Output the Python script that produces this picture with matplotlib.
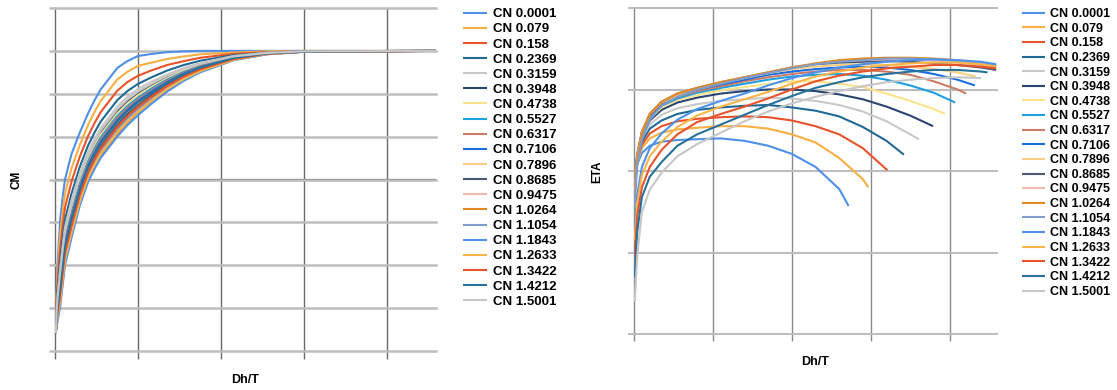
import matplotlib
matplotlib.use("Agg")
import matplotlib.pyplot as plt

plt.rcParams['font.family'] = ['Liberation Sans', 'DejaVu Sans']

# legend labels and series colours (same order in both charts)
cn_labels = ['CN 0.0001', 'CN 0.079', 'CN 0.158', 'CN 0.2369', 'CN 0.3159',
             'CN 0.3948', 'CN 0.4738', 'CN 0.5527', 'CN 0.6317', 'CN 0.7106',
             'CN 0.7896', 'CN 0.8685', 'CN 0.9475', 'CN 1.0264', 'CN 1.1054',
             'CN 1.1843', 'CN 1.2633', 'CN 1.3422', 'CN 1.4212', 'CN 1.5001']
cn_colors = ['#4f8fe8', '#f9ae42', '#e8532a', '#1f6a94', '#c8c8c8',
             '#2a4470', '#fde28c', '#1ea0e0', '#cc7c64', '#1a6ee0',
             '#f8cf7e', '#4b5a72', '#f3bbb0', '#e28a22', '#7f9ccc',
             '#4d93ec', '#fbb548', '#e8532a', '#26729c', '#c6c6c6']

# ---- CM vs Dh/T (left chart) ----
cm_x = [0.01, 0.02, 0.03, 0.06, 0.09, 0.12, 0.2, 0.3, 0.4, 0.48, 0.55,
        0.75, 0.87, 1.0, 1.17, 1.35, 1.55, 1.75, 2.15, 2.55, 3.0, 4.59]
cm_0001 = [0.42, 1.45, 2.00, 3.00, 3.55, 4.00, 4.60, 5.10, 5.55, 5.86, 6.10, 6.60, 6.76, 6.88, 6.93, 6.97, 6.99, 7.00, 7.00, 7.00, 7.00, 7.00]
cm_0079 = [0.42, 1.30, 1.78, 2.66, 3.20, 3.66, 4.27, 4.81, 5.28, 5.59, 5.83, 6.33, 6.51, 6.65, 6.73, 6.81, 6.87, 6.92, 6.96, 6.99, 7.00, 7.00]
cm_0158 = [0.42, 1.16, 1.57, 2.34, 2.87, 3.34, 3.96, 4.54, 5.02, 5.33, 5.57, 6.07, 6.27, 6.42, 6.55, 6.67, 6.76, 6.84, 6.93, 6.97, 6.99, 7.00]
cm_2369 = [0.42, 1.04, 1.39, 2.06, 2.59, 3.06, 3.68, 4.30, 4.80, 5.11, 5.35, 5.85, 6.06, 6.23, 6.39, 6.54, 6.67, 6.77, 6.90, 6.96, 6.99, 7.00]
cm_3159 = [0.42, 0.96, 1.27, 1.88, 2.40, 2.88, 3.51, 4.15, 4.65, 4.96, 5.20, 5.70, 5.92, 6.11, 6.29, 6.45, 6.60, 6.72, 6.88, 6.96, 6.99, 7.00]
cm_3948 = [0.42, 0.90, 1.18, 1.74, 2.26, 2.74, 3.37, 4.03, 4.54, 4.85, 5.09, 5.59, 5.82, 6.01, 6.21, 6.39, 6.56, 6.69, 6.86, 6.95, 6.99, 7.00]
cm_4738 = [0.42, 0.87, 1.14, 1.68, 2.20, 2.68, 3.31, 3.98, 4.49, 4.80, 5.04, 5.54, 5.77, 5.97, 6.17, 6.36, 6.54, 6.67, 6.86, 6.95, 6.99, 7.00]
cm_5527 = [0.42, 0.83, 1.09, 1.60, 2.12, 2.60, 3.23, 3.91, 4.43, 4.74, 4.98, 5.48, 5.71, 5.91, 6.13, 6.33, 6.51, 6.65, 6.85, 6.94, 6.99, 7.00]
cm_6317 = [0.42, 0.81, 1.05, 1.54, 2.05, 2.54, 3.18, 3.86, 4.38, 4.69, 4.93, 5.43, 5.67, 5.87, 6.09, 6.30, 6.49, 6.64, 6.84, 6.94, 6.99, 7.00]
cm_7106 = [0.42, 0.78, 1.01, 1.48, 1.99, 2.48, 3.12, 3.81, 4.33, 4.64, 4.88, 5.38, 5.62, 5.83, 6.06, 6.27, 6.47, 6.62, 6.83, 6.94, 6.99, 7.00]
cm_7896 = [0.42, 0.75, 0.96, 1.40, 1.91, 2.40, 3.04, 3.74, 4.27, 4.58, 4.82, 5.32, 5.56, 5.78, 6.01, 6.23, 6.44, 6.60, 6.82, 6.94, 6.98, 7.00]
cm_8685 = [0.42, 0.72, 0.92, 1.34, 1.85, 2.34, 2.98, 3.69, 4.22, 4.53, 4.77, 5.27, 5.52, 5.73, 5.98, 6.21, 6.42, 6.59, 6.82, 6.93, 6.98, 7.00]
cm_9475 = [0.42, 0.68, 0.87, 1.26, 1.77, 2.26, 2.90, 3.62, 4.16, 4.47, 4.71, 5.21, 5.46, 5.68, 5.93, 6.17, 6.39, 6.57, 6.81, 6.93, 6.98, 7.00]
cm_10264 = [0.42, 0.61, 0.75, 1.08, 1.58, 2.08, 2.73, 3.47, 4.01, 4.32, 4.56, 5.06, 5.32, 5.56, 5.83, 6.09, 6.33, 6.52, 6.79, 6.92, 6.98, 7.00]
cm_11054 = [0.42, 0.66, 0.83, 1.20, 1.71, 2.20, 2.84, 3.57, 4.11, 4.42, 4.66, 5.16, 5.41, 5.64, 5.90, 6.14, 6.37, 6.55, 6.80, 6.93, 6.98, 7.00]
cm_11843 = [0.42, 0.57, 0.70, 1.00, 1.50, 2.00, 2.65, 3.40, 3.95, 4.26, 4.50, 5.00, 5.26, 5.50, 5.78, 6.05, 6.30, 6.50, 6.78, 6.92, 6.98, 7.00]
cm_12633 = [0.42, 0.62, 0.78, 1.12, 1.62, 2.12, 2.77, 3.50, 4.05, 4.36, 4.60, 5.10, 5.35, 5.58, 5.85, 6.11, 6.34, 6.53, 6.79, 6.93, 6.98, 7.00]
cm_13422 = [0.42, 0.69, 0.88, 1.28, 1.79, 2.28, 2.92, 3.64, 4.17, 4.48, 4.72, 5.22, 5.47, 5.69, 5.94, 6.18, 6.40, 6.57, 6.81, 6.93, 6.98, 7.00]
cm_14212 = [0.42, 0.76, 0.99, 1.44, 1.95, 2.44, 3.08, 3.77, 4.30, 4.61, 4.85, 5.35, 5.59, 5.80, 6.03, 6.25, 6.45, 6.61, 6.83, 6.94, 6.98, 7.00]
cm_15001 = [0.42, 0.92, 1.22, 1.80, 2.32, 2.80, 3.43, 4.08, 4.59, 4.90, 5.14, 5.64, 5.86, 6.05, 6.24, 6.42, 6.58, 6.70, 6.87, 6.95, 6.99, 7.00]

cm_series = [cm_0001, cm_0079, cm_0158, cm_2369, cm_3159, cm_3948, cm_4738,
             cm_5527, cm_6317, cm_7106, cm_7896, cm_8685, cm_9475, cm_10264,
             cm_11054, cm_11843, cm_12633, cm_13422, cm_14212, cm_15001]

# ---- ETA vs Dh/T (right chart) ----
# shared x positions; each curve stops where its data ends (last point in eta_end_x/y)
eta_x = [0.01, 0.04, 0.1, 0.2, 0.35, 0.55, 0.8, 1.1, 1.4, 1.7, 2.0, 2.3, 2.6, 2.9, 3.2, 3.5, 3.8, 4.1, 4.4]
eta_0001 = [1.85, 2.08, 2.22, 2.31, 2.36, 2.38, 2.39, 2.40, 2.37, 2.31, 2.21, 2.05, 1.78]
eta_0079 = [1.85, 2.10, 2.28, 2.40, 2.47, 2.51, 2.53, 2.55, 2.55, 2.52, 2.45, 2.35, 2.16, 1.90]
eta_0158 = [1.85, 2.12, 2.32, 2.46, 2.55, 2.61, 2.64, 2.66, 2.67, 2.66, 2.62, 2.55, 2.45, 2.28]
eta_2369 = [1.85, 2.14, 2.36, 2.52, 2.62, 2.70, 2.75, 2.78, 2.80, 2.81, 2.78, 2.74, 2.67, 2.54, 2.37]
eta_3159 = [1.85, 2.16, 2.40, 2.57, 2.69, 2.77, 2.82, 2.86, 2.88, 2.90, 2.89, 2.86, 2.81, 2.73, 2.61, 2.45]
eta_3948 = [1.85, 2.18, 2.43, 2.62, 2.75, 2.84, 2.90, 2.95, 2.98, 3.00, 3.00, 2.98, 2.94, 2.88, 2.79, 2.68]
eta_4738 = [1.85, 2.20, 2.45, 2.64, 2.78, 2.87, 2.93, 2.99, 3.03, 3.07, 3.10, 3.10, 3.07, 3.03, 2.95, 2.86, 2.76]
eta_5527 = [1.85, 2.20, 2.46, 2.66, 2.80, 2.89, 2.96, 3.02, 3.07, 3.12, 3.16, 3.18, 3.19, 3.17, 3.12, 3.05, 2.96]
eta_6317 = [1.85, 2.20, 2.47, 2.68, 2.82, 2.91, 2.98, 3.04, 3.10, 3.15, 3.19, 3.22, 3.24, 3.24, 3.22, 3.18, 3.10, 3.00]
eta_7106 = [1.85, 2.20, 2.48, 2.69, 2.83, 2.92, 3.00, 3.06, 3.12, 3.18, 3.22, 3.25, 3.27, 3.28, 3.27, 3.24, 3.19, 3.12]
eta_7896 = [1.85, 2.20, 2.48, 2.70, 2.84, 2.93, 3.01, 3.08, 3.14, 3.20, 3.25, 3.28, 3.30, 3.31, 3.30, 3.28, 3.25, 3.21]
eta_8685 = [1.80, 2.18, 2.48, 2.70, 2.85, 2.95, 3.02, 3.09, 3.15, 3.21, 3.27, 3.31, 3.33, 3.34, 3.35, 3.34, 3.32, 3.30, 3.27]
eta_9475 = [1.75, 2.16, 2.48, 2.70, 2.85, 2.95, 3.02, 3.09, 3.15, 3.21, 3.27, 3.32, 3.35, 3.36, 3.37, 3.37, 3.35, 3.33, 3.30]
eta_10264 = [1.70, 2.14, 2.47, 2.70, 2.85, 2.95, 3.02, 3.09, 3.15, 3.21, 3.27, 3.32, 3.36, 3.38, 3.39, 3.39, 3.38, 3.36, 3.32]
eta_11054 = [1.60, 2.05, 2.38, 2.63, 2.80, 2.91, 3.00, 3.07, 3.14, 3.20, 3.26, 3.31, 3.34, 3.36, 3.38, 3.38, 3.37, 3.35, 3.32]
eta_11843 = [1.30, 1.70, 2.05, 2.28, 2.46, 2.63, 2.76, 2.86, 2.95, 3.05, 3.14, 3.21, 3.27, 3.31, 3.34, 3.36, 3.37, 3.36, 3.34]
eta_12633 = [1.15, 1.60, 1.95, 2.18, 2.36, 2.54, 2.68, 2.79, 2.88, 2.97, 3.07, 3.16, 3.22, 3.27, 3.30, 3.32, 3.33, 3.33, 3.31]
eta_13422 = [0.95, 1.45, 1.80, 2.05, 2.26, 2.45, 2.60, 2.70, 2.79, 2.89, 3.00, 3.10, 3.17, 3.22, 3.26, 3.28, 3.30, 3.30, 3.28]
eta_14212 = [0.70, 1.25, 1.68, 1.93, 2.11, 2.31, 2.45, 2.57, 2.69, 2.81, 2.92, 3.02, 3.09, 3.15, 3.19, 3.22, 3.24, 3.24, 3.22]
eta_15001 = [0.40, 0.95, 1.50, 1.77, 1.98, 2.18, 2.33, 2.47, 2.61, 2.73, 2.83, 2.91, 2.98, 3.04, 3.09, 3.12, 3.14, 3.15]

eta_end_x = [2.72, 2.97, 3.21, 3.42, 3.61, 3.79, 3.94, 4.07, 4.21, 4.32,
             4.33, 4.59, 4.59, 4.59, 4.59, 4.59, 4.59, 4.59, 4.48, 4.40]
eta_end_y = [1.57, 1.80, 2.01, 2.20, 2.39, 2.55, 2.70, 2.84, 2.95, 3.05,
             3.16, 3.24, 3.27, 3.29, 3.30, 3.31, 3.28, 3.26, 3.21, 3.14]

eta_series = [eta_0001, eta_0079, eta_0158, eta_2369, eta_3159, eta_3948, eta_4738,
              eta_5527, eta_6317, eta_7106, eta_7896, eta_8685, eta_9475, eta_10264,
              eta_11054, eta_11843, eta_12633, eta_13422, eta_14212, eta_15001]

W, H = 1117, 390
fig = plt.figure(figsize=(W / 100, H / 100), dpi=100)
fig.patch.set_facecolor('white')

ax1 = fig.add_axes([55 / W, 1 - 351 / H, 381 / W, 343 / H])
ax2 = fig.add_axes([634 / W, 1 - 334 / H, 363 / W, 326 / H])

# curves
for vals, col, lab in zip(cm_series, cn_colors, cn_labels):
    ax1.plot(cm_x[:len(vals)], vals, color=col, lw=1.5, label=lab, solid_capstyle='butt')

for vals, xe, ye, col, lab in zip(eta_series, eta_end_x, eta_end_y, cn_colors, cn_labels):
    xs = eta_x[:len(vals)] + [xe]
    ys = vals + [ye]
    ax2.plot(xs, ys, color=col, lw=1.5, label=lab, solid_capstyle='butt')

# axes look: no labels on ticks, gridlines only
ax1.set_xlim(0, 4.59)
ax1.set_ylim(0, 8)
ax1.set_xticks(range(5))
ax1.set_yticks(range(9))
ax1.grid(axis='x', color='#6a6a6a', lw=1.0)
ax1.grid(axis='y', color='#bdbdbd', lw=1.8)
ax1.axhline(4, color='#4a4a4a', lw=1.6, zorder=1.5)
ax1.tick_params(axis='x', length=6, width=1.0, color='#6a6a6a')
ax1.tick_params(axis='y', length=4.5, width=1.8, color='#bdbdbd')

ax2.set_xlim(0, 4.6)
ax2.set_ylim(0, 4)
ax2.set_xticks(range(5))
ax2.set_yticks(range(5))
ax2.grid(axis='x', color='#8a8a8a', lw=1.0)
ax2.grid(axis='y', color='#bdbdbd', lw=1.5)
for yv in [1, 2, 3]:
    ax2.axhline(yv, color='#222222', lw=1.1, zorder=1.5)
ax2.tick_params(axis='x', length=5, width=1.0, color='#8a8a8a')
ax2.tick_params(axis='y', length=4.5, width=1.5, color='#bdbdbd')

for ax in (ax1, ax2):
    ax.set_xticklabels([])
    ax.set_yticklabels([])
    for sp in ax.spines.values():
        sp.set_visible(False)
    for gl in ax.get_xgridlines() + ax.get_ygridlines():
        gl.set_clip_on(False)

# axis titles
fig.text(16 / W, 1 - 180 / H, 'CM', rotation=90, ha='center', va='center',
         fontsize=8.5, fontweight='bold')
fig.text(245 / W, 1 - 380 / H, 'Dh/T', ha='center', va='center',
         fontsize=9, fontweight='bold')
fig.text(597 / W, 1 - 172 / H, 'ETA', rotation=90, ha='center', va='center',
         fontsize=8.5, fontweight='bold')
fig.text(815 / W, 1 - 362 / H, 'Dh/T', ha='center', va='center',
         fontsize=9, fontweight='bold')

# legends to the right of each chart
ax1.legend(loc='upper left', bbox_to_anchor=(463 / W, 1 - 8 / H),
           bbox_transform=fig.transFigure, frameon=False,
           prop={'weight': 'bold', 'size': 9.5}, handlelength=1.8,
           handletextpad=0.45, labelspacing=0.22, borderpad=0, borderaxespad=0)
ax2.legend(loc='upper left', bbox_to_anchor=(1022 / W, 1 - 8 / H),
           bbox_transform=fig.transFigure, frameon=False,
           prop={'weight': 'bold', 'size': 9}, handlelength=1.8,
           handletextpad=0.45, labelspacing=0.21, borderpad=0, borderaxespad=0)

fig.savefig('out.png', dpi=100)
